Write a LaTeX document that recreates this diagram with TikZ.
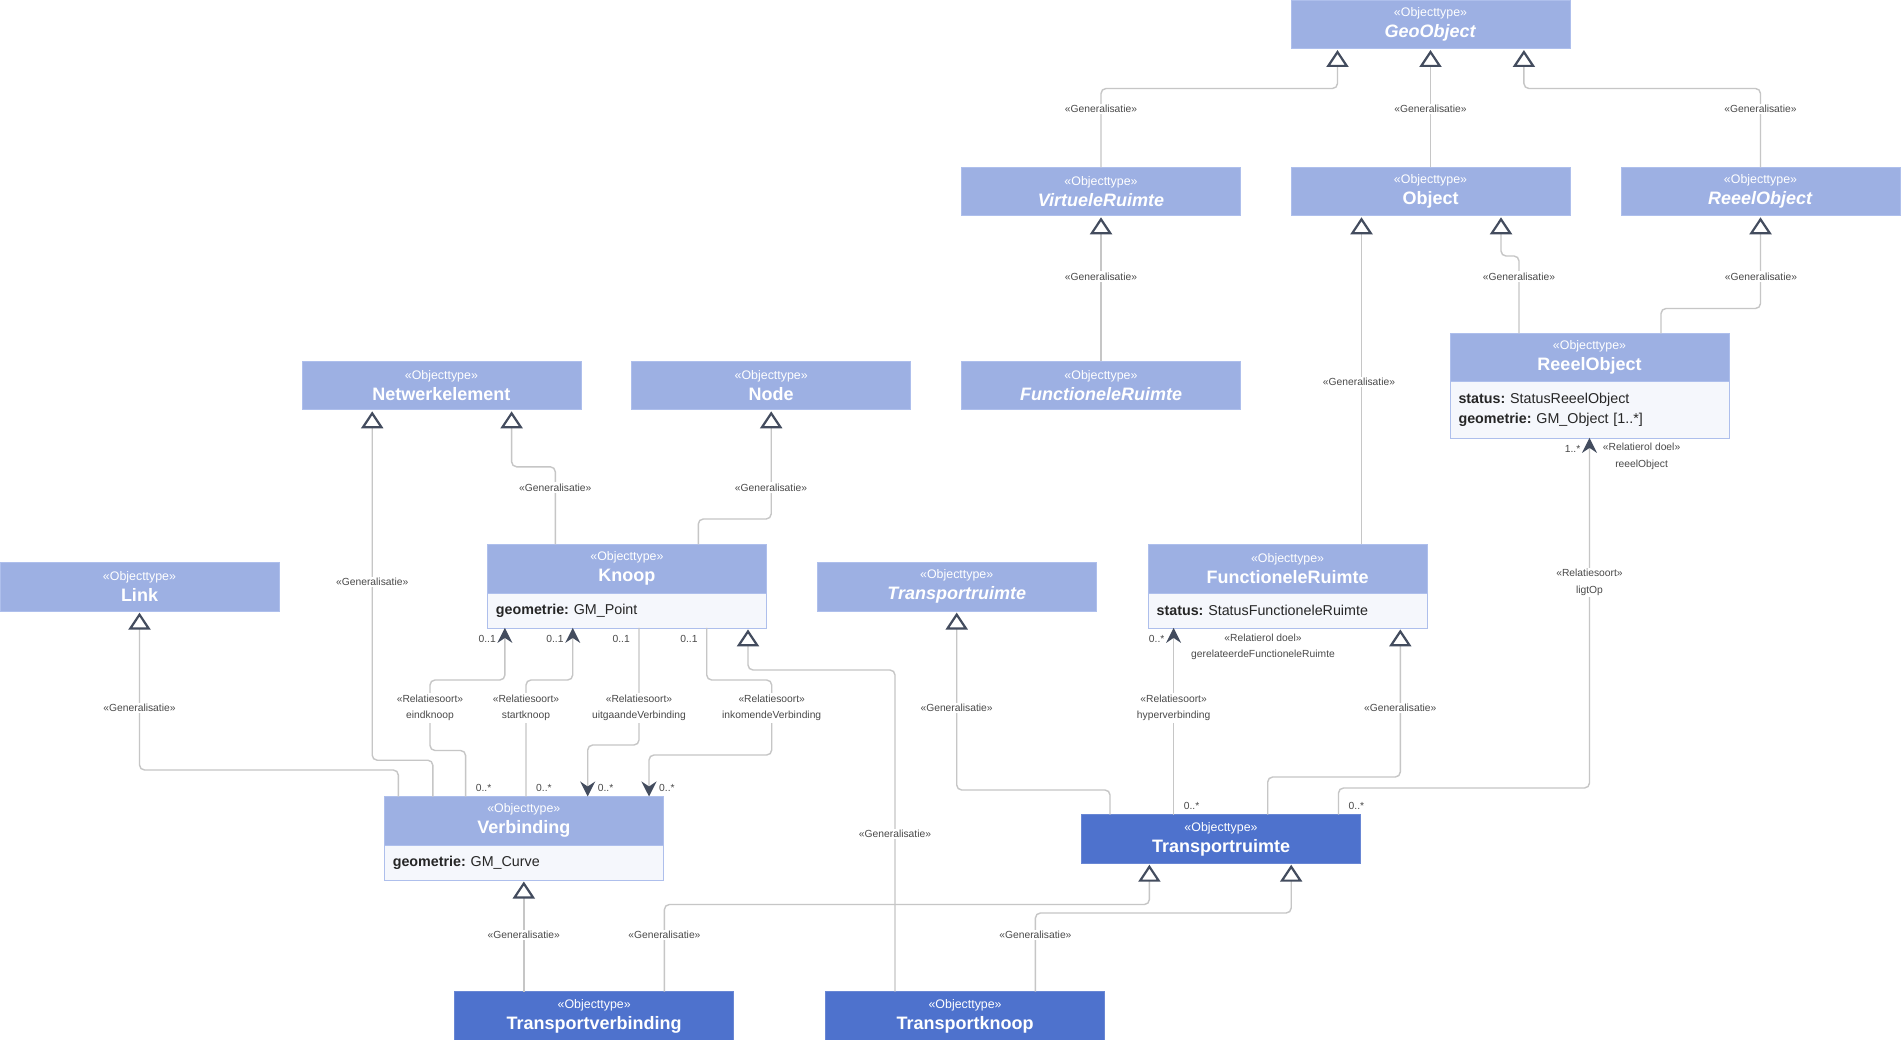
\documentclass[tikz,border=0pt]{standalone}
\usepackage{fontspec}
\setmainfont{Liberation Sans}
\usepackage{tikz}
\usetikzlibrary{arrows.meta,positioning,calc}
\definecolor{kop}{HTML}{9DB0E3}
\definecolor{kopdonker}{HTML}{4E72CD}
\definecolor{rompkleur}{HTML}{F5F7FC}
\definecolor{rand}{HTML}{AEBFEC}
\definecolor{lijngrijs}{HTML}{C6C6C6}
\definecolor{pijl}{HTML}{434C5E}
\definecolor{tekst}{HTML}{4A4A4A}
\newcommand{\ster}{\fontsize{12.4}{14}\selectfont\mdseries\upshape}
\frenchspacing
\tikzset{
  klasse/.style={rectangle,fill=kop,draw=rand,line width=0.8pt,anchor=north,
    minimum width=279pt,minimum height=48.5pt,inner sep=0pt,outer sep=0pt,
    align=center,text=white,font=\fontsize{18}{21}\selectfont\bfseries},
  donker/.style={klasse,fill=kopdonker,draw=kopdonker!85!white},
  attrvak/.style={rectangle,fill=rompkleur,draw=rand,line width=0.8pt,
    minimum width=279pt,minimum height=35pt,text width=262pt,inner xsep=8.5pt,
    inner ysep=0pt,outer sep=0pt,align=left,text=black!85,font=\fontsize{14.3}{20.6}\selectfont\frenchspacing},
  gen/.style={draw=lijngrijs,line width=1.4pt,rounded corners=5pt,shorten >=1.5pt,
    -{Triangle[open,length=17pt,width=22pt,line width=2.2pt,color=pijl]}},
  rel/.style={draw=lijngrijs,line width=1.4pt,rounded corners=5pt,
    -{Stealth[length=15pt,width=15pt,inset=5pt,color=pijl]}},
  lbl/.style={fill=white,inner sep=1.5pt,text=tekst,align=center,font=\fontsize{10.3}{16.5}\selectfont},
  mult/.style={inner sep=0pt,text=tekst,font=\fontsize{10.3}{12}\selectfont}
}

\begin{document}
\begin{tikzpicture}[x=1pt,y=-1pt]
\path[use as bounding box,fill=white] (0,0) rectangle (1901,1040);

% klassen
\node[klasse] (geo) at (1430.5,0) {{\ster «Objecttype»}\\\textit{GeoObject}};
\node[klasse] (virt) at (1101,167.3) {{\ster «Objecttype»}\\\textit{VirtueleRuimte}};
\node[klasse] (obj) at (1430.5,167.3) {{\ster «Objecttype»}\\Object};
\node[klasse] (reeelA) at (1760.5,167.3) {{\ster «Objecttype»}\\\textit{ReeelObject}};
\node[klasse] (reeel) at (1589.5,333.4) {{\ster «Objecttype»}\\ReeelObject};
\node[attrvak,minimum height=56pt,below=0pt of reeel] (reeelB) {\textbf{status:} StatusReeelObject\\\textbf{geometrie:} GM\_Object [1..*]};
\node[klasse] (netw) at (441.4,361.3) {{\ster «Objecttype»}\\Netwerkelement};
\node[klasse] (nd) at (771.2,361.3) {{\ster «Objecttype»}\\Node};
\node[klasse] (frA) at (1101,361.3) {{\ster «Objecttype»}\\\textit{FunctioneleRuimte}};
\node[klasse] (link) at (139.5,562.6) {{\ster «Objecttype»}\\Link};
\node[klasse] (knoop) at (626.9,544.4) {{\ster «Objecttype»}\\Knoop};
\node[attrvak,below=0pt of knoop] (knoopB) {\textbf{geometrie:} GM\_Point};
\node[klasse] (trA) at (956.7,562.6) {{\ster «Objecttype»}\\\textit{Transportruimte}};
\node[klasse] (fr) at (1287.6,544.4) {{\ster «Objecttype»}\\FunctioneleRuimte};
\node[attrvak,below=0pt of fr] (frB) {\textbf{status:} StatusFunctioneleRuimte};
\node[klasse] (verb) at (523.8,796.5) {{\ster «Objecttype»}\\Verbinding};
\node[attrvak,below=0pt of verb] (verbB) {\textbf{geometrie:} GM\_Curve};
\node[donker] (tr) at (1221,814.7) {{\ster «Objecttype»}\\Transportruimte};
\node[donker] (tv) at (594.2,991.7) {{\ster «Objecttype»}\\Transportverbinding};
\node[donker] (tk) at (965.1,991.7) {{\ster «Objecttype»}\\Transportknoop};

% generalisaties
\draw[gen] (virt.north) -- ++(0,-78.8) -| ([xshift=-93pt]geo.south);
\draw[gen] (obj.north) -- (geo.south);
\draw[gen] (reeelA.north) -- ++(0,-78.8) -| ([xshift=93.4pt]geo.south);
\draw[gen] (frA.north) -- (virt.south);
\draw[gen] ([xshift=-70.5pt]reeel.north) -- ++(0,-77.4) -| ([xshift=70.5pt]obj.south);
\draw[gen] ([xshift=71.5pt]reeel.north) -- ++(0,-24.9) -| (reeelA.south);
\draw[gen] ([xshift=73.9pt]fr.north) -- ([xshift=-69pt]obj.south);
\draw[gen] ([xshift=-71.6pt]knoop.north) -- ++(0,-77.6) -| ([xshift=70.2pt]netw.south);
\draw[gen] ([xshift=71.4pt]knoop.north) -- ++(0,-25.4) -| (nd.south);
\draw[gen] ([xshift=-91pt]verb.north) -- ++(0,-36.3) -| ([xshift=-69.2pt]netw.south);
\draw[gen] ([xshift=-125.5pt]verb.north) -- ++(0,-26.5) -| (link.south);
\draw[gen] ([xshift=-70.1pt]tk.north) -- ++(0,-321.7) -| ([xshift=121.1pt]knoopB.south);
\draw[gen] ([xshift=-111pt]tr.north) -- ++(0,-24.7) -| (trA.south);
\draw[gen] ([xshift=46.7pt]tr.north) -- ++(0,-37.7) -| ([xshift=112.7pt]frB.south);
\draw[gen] ([xshift=-70.4pt]tv.north) -- (verbB.south);
\draw[gen] ([xshift=70.2pt]tv.north) -- ++(0,-87.2) -| ([xshift=-71.6pt]tr.south);
\draw[gen] ([xshift=70.3pt]tk.north) -- ++(0,-78.7) -| ([xshift=70.2pt]tr.south);

% relatiesoorten
\draw[rel] ([xshift=-58.2pt]verb.north) -- ++(0,-46) -| ++(-35.6,-70.5) -| ([xshift=-122pt]knoopB.south);
\draw[rel] ([xshift=2.2pt]verb.north) -- ++(0,-116.5) -| ([xshift=-54.2pt]knoopB.south);
\draw[rel] ([xshift=12.1pt]knoopB.south) -- ++(0,117.1) -| ([xshift=63.9pt]verb.north);
\draw[rel] ([xshift=79.8pt]knoopB.south) -- ++(0,52.1) -| ++(65,75) -| ([xshift=125.2pt]verb.north);
\draw[rel] ([xshift=-47.4pt]tr.north) -- ([xshift=-114pt]frB.south);
\draw[rel] ([xshift=117.5pt]tr.north) -- ++(0,-26.7) -| (reeelB.south);

% labels
\foreach \x/\y [count=\i] in {1101/109,1430.5/109,1760.5/109,1101/276.4,1519/276.4,
  1761/276.4,1359/382,555.3/487.4,771/487.4,372.2/582,139.5/708,895/834,956.6/708,
  1400.3/708,523.8/935,664.4/935,1035.4/935}
  \node[lbl] (gen\i) at (\x,\y) {«Generalisatie»};
\node[lbl] (eind) at (430,708) {«Relatiesoort»\\eindknoop};
\node[lbl] (start) at (526,708) {«Relatiesoort»\\startknoop};
\node[lbl] (uit) at (639,708) {«Relatiesoort»\\uitgaandeVerbinding};
\node[lbl] (in) at (771.7,708) {«Relatiesoort»\\inkomendeVerbinding};
\node[lbl] (hyper) at (1173.6,708) {«Relatiesoort»\\hyperverbinding};
\node[lbl] (ligt) at (1589.5,582.5) {«Relatiesoort»\\ligtOp};
\node[lbl] (rolfr) at (1263,647) {«Relatierol doel»\\gerelateerdeFunctioneleRuimte};
\node[lbl] (rolro) at (1641.6,456.5) {«Relatierol doel»\\reeelObject};

% multipliciteiten
\foreach \x/\y/\a/\t [count=\i] in {496/639/east/0..1,563.7/639/east/0..1,630/639/east/0..1,
  697.7/639/east/0..1,475.6/787.5/west/0..*,536/787.5/west/0..*,597.7/787.5/west/0..*,
  659/787.5/west/0..*,1164.6/639/east/0..*,1183.6/806/west/0..*,1348.5/806/west/0..*,
  1580.5/448.6/east/1..*}
  \node[mult,anchor=\a] (m\i) at (\x,\y) {\t};
\end{tikzpicture}
\end{document}
